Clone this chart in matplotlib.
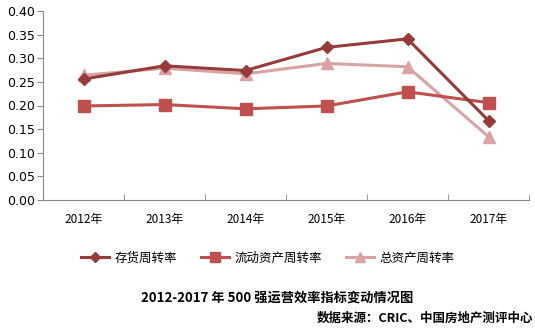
import matplotlib
matplotlib.use("Agg")
import matplotlib.pyplot as plt
from matplotlib.lines import Line2D

plt.rcParams['font.family'] = ['Noto Sans CJK SC', 'DejaVu Sans']

years = ["2012年", "2013年", "2014年", "2015年", "2016年", "2017年"]
inventory = [0.256, 0.284, 0.274, 0.323, 0.341, 0.168]
current_assets = [0.199, 0.202, 0.193, 0.199, 0.229, 0.206]
total_assets = [0.264, 0.279, 0.267, 0.289, 0.282, 0.134]
labels = ["存货周转率", "流动资产周转率", "总资产周转率"]
yticks = [0.00, 0.05, 0.10, 0.15, 0.20, 0.25, 0.30, 0.35, 0.40]

c1, c2, c3 = "#963A3A", "#C0504D", "#D9A3A3"

fig = plt.figure(figsize=(5.35, 3.28), dpi=100)
ax = fig.add_axes([43/535, 1-200/328, (529-43)/535, (200-11)/328])

x = list(range(len(years)))
ax.plot(x, total_assets, color=c3, lw=2.2, marker="^", ms=8, label=labels[2], zorder=2)
ax.plot(x, current_assets, color=c2, lw=2.2, marker="s", ms=8, label=labels[1], zorder=3)
ax.plot(x, inventory, color=c1, lw=2.2, marker="D", ms=6, label=labels[0], zorder=4)

ax.set_xlim(-0.5, len(years)-0.5)
ax.set_ylim(0, 0.40)
ax.set_yticks(yticks)
ax.set_yticklabels([f"{v:.2f}" for v in yticks], fontsize=9, family=['DejaVu Sans'])
ax.set_xticks(x)
ax.set_xticklabels(years, fontsize=8.5)
ax.set_xticks([i-0.5 for i in range(len(years)+1)], minor=True)
ax.tick_params(axis='x', which='major', length=0, pad=9)
ax.tick_params(axis='x', which='minor', length=4, color="#888888", direction='in')
ax.tick_params(axis='y', length=4, color="#888888", pad=2)
for s in ["top", "right"]:
    ax.spines[s].set_visible(False)
ax.spines["left"].set_color("#888888")
ax.spines["bottom"].set_color("#888888")

handles = [Line2D([], [], color=c1, lw=2.2, marker="D", ms=5),
           Line2D([], [], color=c2, lw=2.2, marker="s", ms=7),
           Line2D([], [], color=c3, lw=2.2, marker="^", ms=7)]
fig.legend(handles, labels, loc="center", bbox_to_anchor=(0.5, 1-258/328), ncol=3,
           frameon=False, fontsize=9, handlelength=2.3, columnspacing=1.9, handletextpad=0.4)

fig.text(0.518, 1-298/328, "2012-2017 年 500 强运营效率指标变动情况图", ha="center", va="center",
         fontsize=9.5, fontweight="bold")
fig.text(533/535, 1-318/328, "数据来源：CRIC、中国房地产测评中心", ha="right", va="center",
         fontsize=9, fontweight="bold")

fig.savefig("out.png", dpi=100)
